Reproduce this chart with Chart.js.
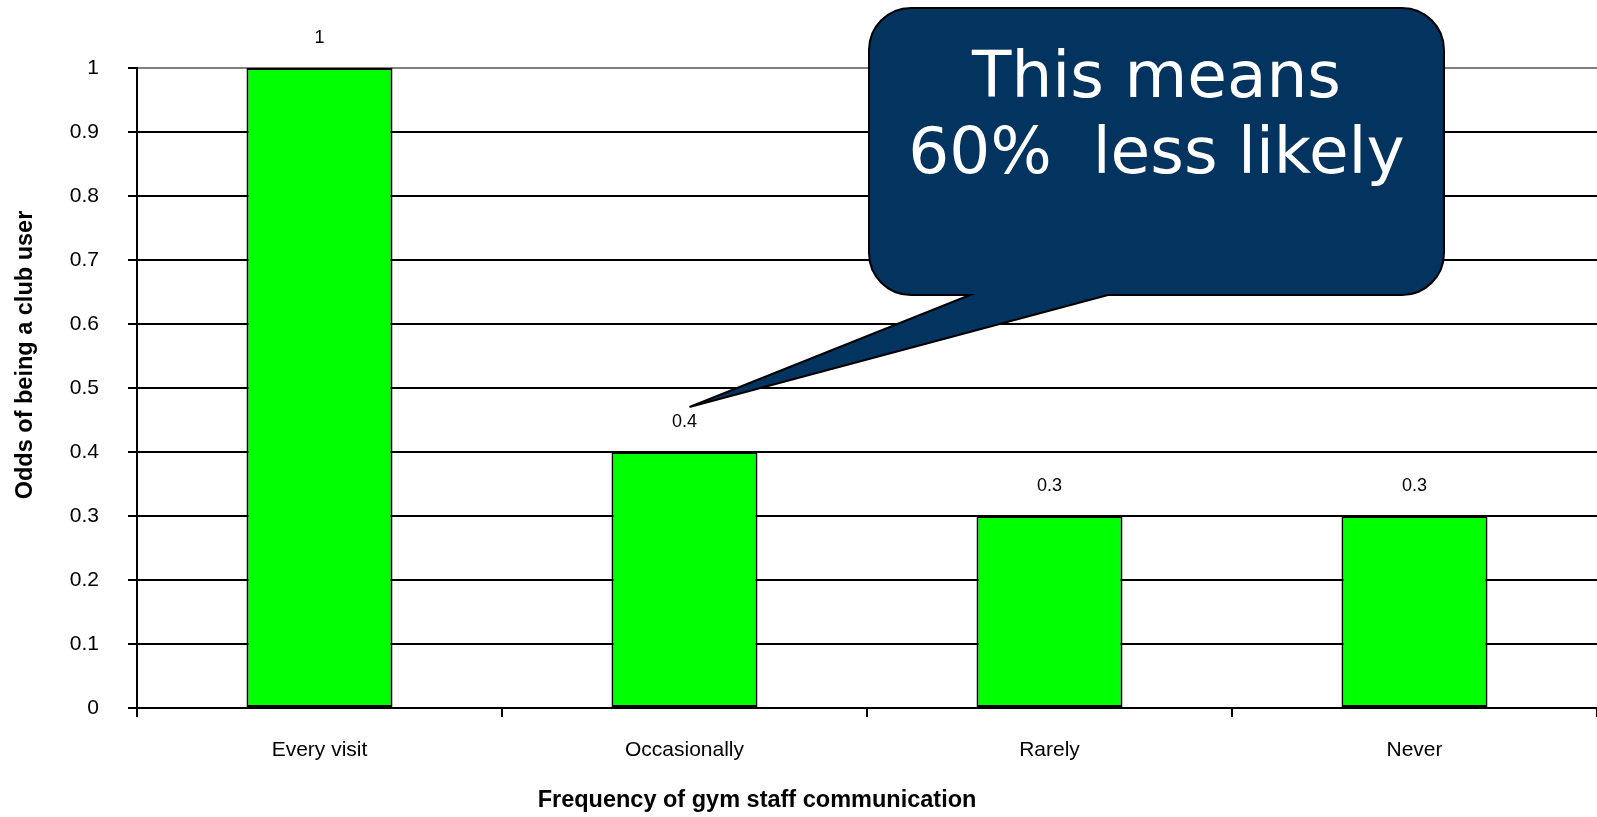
<!DOCTYPE html>
<html>
<head>
<meta charset="utf-8">
<title>Odds of being a club user</title>
<script src="https://cdn.jsdelivr.net/npm/chart.js@4/dist/chart.umd.min.js"></script>
<style>
  html, body { margin: 0; padding: 0; background: #fff; }
  #chart { display: block; }
</style>
</head>
<body>
<canvas id="chart" width="1597" height="817"></canvas>
<script>
"use strict";

const categories = ["Every visit", "Occasionally", "Rarely", "Never"];
const odds = [1, 0.4, 0.3, 0.3];
const yTicks = ["0", "0.1", "0.2", "0.3", "0.4", "0.5", "0.6", "0.7", "0.8", "0.9", "1"];
const xTitle = "Frequency of gym staff communication";
const yTitle = "Odds of being a club user";
const calloutLines = ["This means", "60%  less likely"];
const calloutBar = 1; // the bar the speech bubble points at

const FONT = "'Liberation Sans', Arial, sans-serif";

// value labels above each bar
const barLabels = {
  id: "barLabels",
  afterDatasetsDraw(chart) {
    const { ctx } = chart;
    const meta = chart.getDatasetMeta(0);
    ctx.save();
    ctx.font = "18px " + FONT;
    ctx.fillStyle = "#000";
    ctx.textAlign = "center";
    ctx.textBaseline = "middle";
    meta.data.forEach((bar, i) => {
      ctx.fillText(String(odds[i]), bar.x, bar.y - 30);
    });
    ctx.restore();
  },
};

// axis titles sit off-centre from the plot area, so they are placed by hand
const axisTitles = {
  id: "axisTitles",
  afterDraw(chart) {
    const { ctx } = chart;
    ctx.save();
    ctx.font = "bold 23.5px " + FONT;
    ctx.fillStyle = "#000";
    ctx.textAlign = "center";
    ctx.textBaseline = "middle";
    ctx.fillText(xTitle, 757, 801);
    ctx.translate(26, 355);
    ctx.rotate(-Math.PI / 2);
    ctx.fillText(yTitle, 0, 0);
    ctx.restore();
  },
};

// rounded speech bubble with a tail pointing to one bar's label
const callout = {
  id: "callout",
  afterDraw(chart) {
    const { ctx } = chart;
    const bar = chart.getDatasetMeta(0).data[calloutBar];
    const tip = { x: bar.x + 5, y: bar.y - 45 };
    const l = 869, t = 8, r = 1444, b = 295, rad = 42;
    const tailL = 970, tailR = 1108;

    ctx.save();
    ctx.beginPath();
    ctx.moveTo(l + rad, t);
    ctx.lineTo(r - rad, t);
    ctx.arcTo(r, t, r, t + rad, rad);
    ctx.lineTo(r, b - rad);
    ctx.arcTo(r, b, r - rad, b, rad);
    ctx.lineTo(tailR, b);
    ctx.lineTo(tip.x, tip.y);
    ctx.lineTo(tailL, b);
    ctx.lineTo(l + rad, b);
    ctx.arcTo(l, b, l, b - rad, rad);
    ctx.lineTo(l, t + rad);
    ctx.arcTo(l, t, l + rad, t, rad);
    ctx.closePath();
    ctx.fillStyle = "#03335f";
    ctx.fill();
    ctx.lineWidth = 2;
    ctx.strokeStyle = "#000";
    ctx.lineJoin = "miter";
    ctx.stroke();

    ctx.fillStyle = "#fff";
    ctx.font = "64.5px 'DejaVu Sans', Verdana, sans-serif";
    ctx.textAlign = "center";
    ctx.textBaseline = "alphabetic";
    const cx = (l + r) / 2;
    calloutLines.forEach((line, i) => ctx.fillText(line, cx, 97 + i * 76));
    ctx.restore();
  },
};

new Chart(document.getElementById("chart"), {
  type: "bar",
  data: {
    labels: categories,
    datasets: [{
      data: odds,
      backgroundColor: "#00ff00",
      borderColor: "#000",
      borderWidth: 2,
      borderSkipped: false,
      barPercentage: 0.4,
      categoryPercentage: 1,
    }],
  },
  options: {
    responsive: false,
    animation: false,
    layout: { padding: { top: 68, left: 0, right: 0, bottom: 0 } },
    plugins: {
      legend: { display: false },
      tooltip: { enabled: false },
    },
    scales: {
      x: {
        afterFit(scale) { scale.height = 109; },
        grid: {
          display: true,
          drawOnChartArea: false,
          drawTicks: true,
          tickLength: 9,
          color: "#000",
          lineWidth: 2,
          offset: true,
        },
        border: { display: true, color: "#000", width: 2 },
        ticks: {
          color: "#000",
          font: { family: FONT, size: 21 },
          padding: 21,
          maxRotation: 0,
        },
      },
      y: {
        min: 0,
        max: 1,
        afterFit(scale) { scale.width = 137; },
        grid: {
          color: (c) => (c.tick && c.tick.value === 1 ? "#808080" : "#000"),
          tickColor: "#000",
          lineWidth: 2,
          tickLength: 9,
        },
        border: { display: true, color: "#000", width: 2 },
        ticks: {
          stepSize: 0.1,
          color: "#000",
          font: { family: FONT, size: 21 },
          padding: 29,
          callback: (v, i) => yTicks[i],
        },
      },
    },
  },
  plugins: [barLabels, axisTitles, callout],
});
</script>
</body>
</html>
